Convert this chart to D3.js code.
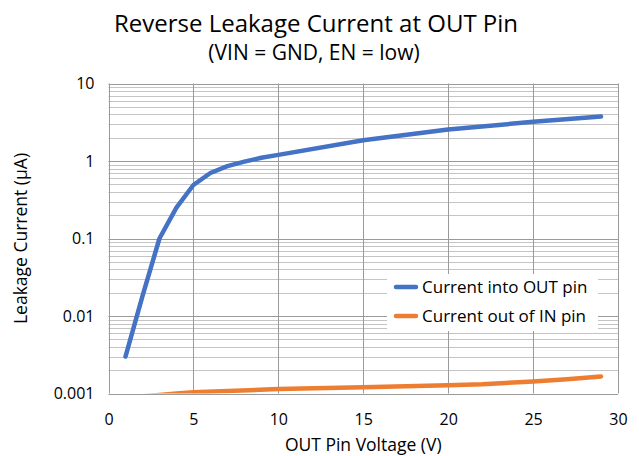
<!DOCTYPE html>
<html>
<head>
<meta charset="utf-8">
<script src="https://cdn.jsdelivr.net/npm/d3@7"></script>
<style>
  body { margin: 0; background: #fff; }
  text { font-family: "Open Sans", "Noto Sans", sans-serif; fill: #000; }
</style>
</head>
<body>
<svg id="chart" width="639" height="456"></svg>
<script>
// data
const intoOutV = [1, 2, 3, 4, 5, 6, 7, 8, 9, 10, 15, 20, 25, 29];
const intoOutI = [0.003, 0.018, 0.1, 0.25, 0.49, 0.7, 0.86, 0.98, 1.1, 1.2, 1.85, 2.55, 3.2, 3.75];
const outOfInV = [1, 2, 3, 4, 5, 10, 15, 20, 22, 25, 27, 29];
const outOfInI = [0.00088, 0.00092, 0.00096, 0.001, 0.00104, 0.00114, 0.0012, 0.00128, 0.00132, 0.00143, 0.00153, 0.00166];
const xTicks = [0, 5, 10, 15, 20, 25, 30];
const yTicks = [0.001, 0.01, 0.1, 1, 10];
const yTickLabels = ["0.001", "0.01", "0.1", "1", "10"];
const seriesNames = ["Current into OUT pin", "Current out of IN pin"];
const seriesColors = ["#4472C4", "#ED7D31"];

const svg = d3.select("#chart");
const mLeft = 108.5, mRight = 618, mTop = 83.5, mBottom = 393.5;

const x = d3.scaleLinear().domain([0, 30]).range([mLeft, mRight]);
const y = d3.scaleLog().domain([0.001, 10]).range([mBottom, mTop]);

// minor grid
const minor = [];
for (let e = -3; e < 1; e++) {
  for (let m = 2; m <= 9; m++) minor.push(m * Math.pow(10, e));
}
svg.append("g").selectAll("line").data(minor).join("line")
  .attr("x1", mLeft).attr("x2", mRight)
  .attr("y1", d => Math.round(y(d)) + 0.5).attr("y2", d => Math.round(y(d)) + 0.5)
  .attr("stroke", "#c4c4c4").attr("stroke-width", 1);

// major grid
svg.append("g").selectAll("line").data(yTicks).join("line")
  .attr("x1", mLeft).attr("x2", mRight)
  .attr("y1", d => Math.round(y(d)) + 0.5).attr("y2", d => Math.round(y(d)) + 0.5)
  .attr("stroke", "#9a9a9a").attr("stroke-width", 1);

svg.append("g").selectAll("line").data(xTicks).join("line")
  .attr("x1", d => Math.round(x(d)) + 0.5).attr("x2", d => Math.round(x(d)) + 0.5)
  .attr("y1", mTop).attr("y2", mBottom)
  .attr("stroke", "#9a9a9a").attr("stroke-width", 1);

// axes labels
const xAxis = d3.axisBottom(x).tickValues(xTicks).tickSize(0).tickPadding(20);
svg.append("g").attr("transform", `translate(0,${mBottom})`).call(xAxis)
  .call(g => g.select(".domain").remove())
  .selectAll("text").attr("font-size", 16).attr("font-family", "'Open Sans', sans-serif").attr("fill", "#000");

const yAxis = d3.axisLeft(y).tickValues(yTicks).tickFormat((d, i) => yTickLabels[i]).tickSize(0).tickPadding(14);
svg.append("g").attr("transform", `translate(${mLeft},0)`).call(yAxis)
  .call(g => g.select(".domain").remove())
  .selectAll("text").attr("font-size", 16).attr("font-family", "'Open Sans', sans-serif").attr("fill", "#000");

// lines
svg.append("clipPath").attr("id", "plot")
  .append("rect").attr("x", mLeft).attr("y", mTop - 5).attr("width", mRight - mLeft).attr("height", mBottom - mTop + 5);

const line = d3.line().x(d => x(d[0])).y(d => y(d[1]));
const series = [
  d3.zip(intoOutV, intoOutI),
  d3.zip(outOfInV, outOfInI)
];
svg.append("g").attr("clip-path", "url(#plot)").selectAll("path").data(series).join("path")
  .attr("d", line)
  .attr("fill", "none")
  .attr("stroke", (d, i) => seriesColors[i])
  .attr("stroke-width", 4.5)
  .attr("stroke-linecap", "round")
  .attr("stroke-linejoin", "round");

// legend
const lg = svg.append("g");
lg.append("rect").attr("x", 387).attr("y", 274).attr("width", 211).attr("height", 57).attr("fill", "#fff");
seriesNames.forEach((name, i) => {
  const cy = 287 + i * 29;
  lg.append("line").attr("x1", 396).attr("x2", 416).attr("y1", cy).attr("y2", cy)
    .attr("stroke", seriesColors[i]).attr("stroke-width", 4.5).attr("stroke-linecap", "round");
  lg.append("text").attr("x", 422).attr("y", cy).attr("dy", "0.35em")
    .attr("font-size", 17).text(name);
});

// titles
svg.append("text").attr("x", 316).attr("y", 32).attr("text-anchor", "middle")
  .attr("font-size", 24).text("Reverse Leakage Current at OUT Pin");
svg.append("text").attr("x", 314).attr("y", 60).attr("text-anchor", "middle")
  .attr("font-size", 21).text("(VIN = GND, EN = low)");
svg.append("text").attr("x", (mLeft + mRight) / 2).attr("y", 445).attr("dy", "0.35em").attr("text-anchor", "middle")
  .attr("font-size", 17.5).text("OUT Pin Voltage (V)");
svg.append("text").attr("transform", `translate(21,${(mTop + mBottom) / 2}) rotate(-90)`)
  .attr("dy", "0.35em").attr("text-anchor", "middle")
  .attr("font-size", 17.5).text("Leakage Current (µA)");
</script>
</body>
</html>
